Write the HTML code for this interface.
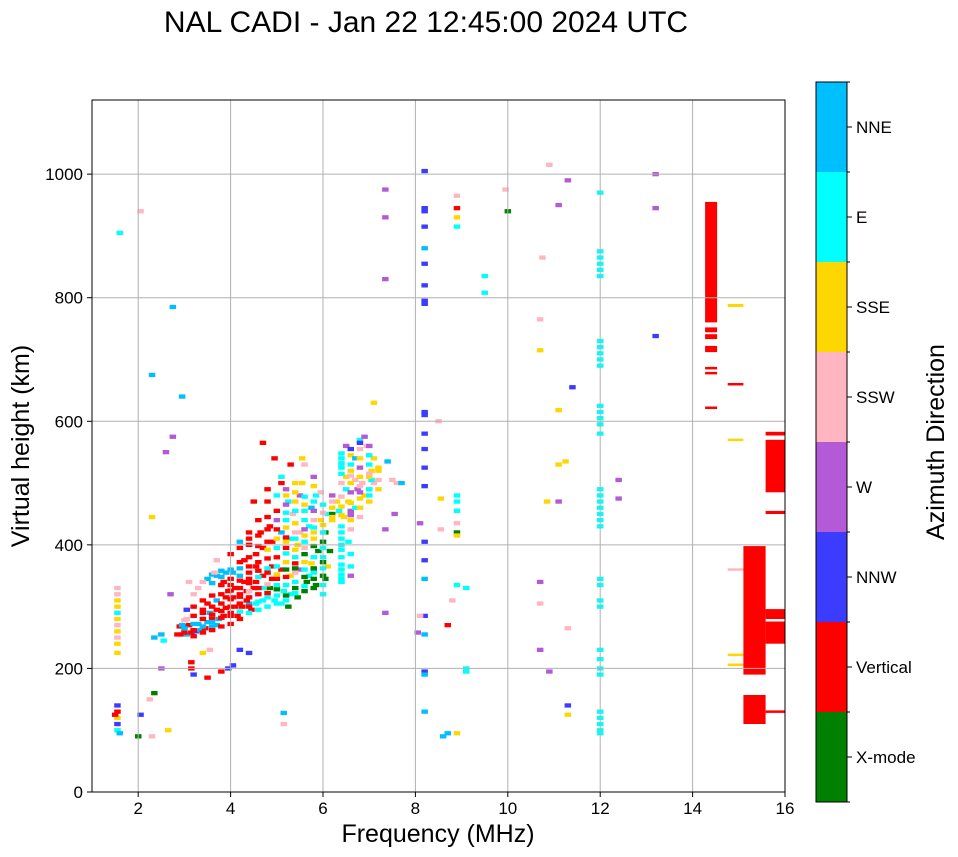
<!DOCTYPE html>
<html><head><meta charset="utf-8"><style>
html,body{margin:0;padding:0;background:#fff;}
svg{display:block;font-family:"Liberation Sans","DejaVu Sans",sans-serif;}
</style></head><body>
<svg id="chart" width="958" height="857" viewBox="0 0 958 857">
<text x="426" y="32" font-size="30" text-anchor="middle">NAL CADI - Jan 22 12:45:00 2024 UTC</text>
<g id="data"></g>
<g id="grid"></g>
<rect x="92" y="100" width="693" height="692" fill="none" stroke="#000" stroke-width="1"/>
<g id="ticks"></g>
<text x="438" y="842" font-size="25" text-anchor="middle">Frequency (MHz)</text>
<text transform="translate(29,446) rotate(-90)" font-size="25" text-anchor="middle">Virtual height (km)</text>
<g id="cbar"></g>
<text transform="translate(944,442) rotate(-90)" font-size="25" text-anchor="middle">Azimuth Direction</text>
</svg>
<script>
const directions = ["X-mode","Vertical","NNW","W","SSW","SSE","E","NNE"];
const dirColors = ["#008000","#ff0000","#3c3cff","#b45ad6","#ffb6c1","#ffd700","#00ffff","#00bfff"];
const xTicks = [2,4,6,8,10,12,14,16];
const yTicks = [0,200,400,600,800,1000];
// echoes: [frequency MHz, virtual height km, direction index]
const echoes = [
[1.55,330,4],[1.55,320,4],[1.55,310,5],[1.55,300,5],[1.55,290,6],[1.55,280,5],[1.55,270,4],[1.55,260,5],[1.55,250,4],[1.55,240,5],[1.55,225,5],
[1.55,140,2],[1.55,130,1],[1.55,120,5],[1.55,110,2],[1.55,100,6],[1.6,95,7],[1.5,125,1],[1.6,905,6],
[2.05,940,4],[2.3,675,7],[2.75,785,7],[2.95,640,7],[2.75,575,3],[2.6,550,3],[2.3,445,5],[2.35,250,7],[2.5,255,7],[2.55,245,6],[2.7,320,3],
[2.05,125,2],[2.35,160,0],[2.25,150,4],[2.5,200,3],[2.0,90,0],[2.3,90,4],[2.65,100,5],
[2.85,255,1],[2.95,255,1],[3.05,255,7],[3.15,258,1],[3.25,260,2],[3.35,262,7],[3.45,265,1],[3.6,268,7],[3.7,270,7],
[2.9,268,1],[3.0,268,2],[3.1,270,1],[3.3,272,7],[3.5,275,7],[3.6,280,1],[3.75,280,7],[3.85,285,1],[4.0,290,1],
[3.2,285,1],[3.4,290,1],[3.55,290,7],[3.7,295,1],[3.9,298,1],[4.1,300,1],[4.25,300,1],[4.4,305,7],[4.55,305,6],[4.7,310,6],
[3.5,305,1],[3.7,310,7],[3.9,315,1],[4.05,315,1],[4.2,320,1],[4.35,325,1],[4.5,330,1],[4.7,330,6],[4.85,330,0],[5.0,335,6],[5.15,325,6],[5.3,320,6],[5.45,315,0],
[3.3,330,4],[3.1,340,4],[3.5,345,7],[3.7,350,7],[3.9,355,7],[4.05,355,7],[4.2,350,7],[4.4,345,1],[4.55,340,1],[4.0,335,1],[3.85,340,1],[3.95,325,1],[4.35,310,1],[3.2,300,1],[3.05,280,4],[3.05,295,2],[2.95,270,7],
[3.8,320,1],[4.1,330,1],[4.3,340,1],[4.6,320,1],[4.8,315,6],[4.95,310,6],[5.1,305,6],[5.25,300,0],[4.15,285,1],[4.45,295,1],[3.6,300,1],[4.7,350,1],[4.9,345,1],
[4.3,375,1],[4.55,385,1],[4.7,395,1],[4.4,410,1],[4.65,420,1],[4.85,430,1],[4.8,445,1],[4.5,470,1],[4.8,490,1],[5.1,500,1],[5.3,530,1],[4.95,540,1],[4.7,565,1],
[4.2,405,7],[4.9,405,1],[5.0,380,1],[5.2,395,1],[4.9,365,1],[4.55,365,1],[5.1,360,1],[5.4,370,1],
[5.2,440,6],[5.35,450,4],[5.4,470,5],[5.5,480,3],[5.55,500,5],[5.6,455,6],[5.7,430,6],[5.8,410,5],[5.9,390,0],[6.0,380,6],[5.6,395,4],[5.45,400,5],[5.3,410,6],[5.1,420,7],
[5.25,470,6],[5.75,460,7],[5.85,480,6],[5.95,440,5],[6.05,420,0],[5.3,350,5],[5.5,360,3],[5.7,350,6],[5.85,335,0],[6.05,345,0],[6.0,320,6],[5.65,340,0],[5.4,340,6],
[5.75,370,5],[6.1,365,5],[6.15,390,0],[5.5,420,4],[5.2,465,3],[5.1,510,6],[5.55,540,5],[5.6,530,4],[5.8,510,3],[5.95,485,4],[6.1,450,6],[6.2,450,0],
[6.4,540,6],[6.4,525,6],[6.5,560,3],[6.6,545,5],[6.7,540,7],[6.8,570,6],[6.9,575,3],[6.95,560,4],[6.6,520,5],[6.7,505,4],[6.75,490,3],[7.0,530,6],[7.05,520,5],[7.1,500,4],
[6.4,500,4],[6.5,490,6],[6.55,470,5],[6.35,455,6],[6.45,445,5],[6.6,455,3],[6.7,460,6],[6.8,475,5],[6.9,480,5],[7.0,490,6],
[6.4,420,6],[6.4,400,6],[6.4,380,6],[6.4,360,6],[6.4,345,6],[6.55,405,6],[6.6,425,4],[6.3,470,5],[6.2,460,5],[6.5,510,5],[6.85,500,4],[7.05,505,6],[7.1,540,5],[7.2,520,5],
[7.1,630,5],[7.4,535,7],[7.5,505,4],[7.6,500,4],[7.7,500,7],[7.55,450,3],[6.6,350,3],
[3.0,258,1],[3.0,265,7],[3.0,278,4],
[3.2,252,1],[3.2,262,1],[3.2,272,7],[3.2,320,4],
[3.4,258,1],[3.4,268,7],[3.4,280,1],[3.4,295,1],[3.4,310,1],
[3.6,262,1],[3.6,275,7],[3.6,287,1],[3.6,318,1],[3.6,338,7],[3.6,352,7],
[3.8,268,1],[3.8,282,1],[3.8,293,1],[3.8,305,1],[3.8,335,1],[3.8,348,7],[3.8,358,7],
[4.0,272,1],[4.0,285,1],[4.0,300,1],[4.0,312,1],[4.0,326,1],[4.0,345,1],[4.0,360,7],[4.0,385,1],
[4.2,280,1],[4.2,292,6],[4.2,305,1],[4.2,316,1],[4.2,330,1],[4.2,342,1],[4.2,362,7],[4.2,372,1],[4.2,395,1],
[4.4,290,6],[4.4,300,1],[4.4,315,1],[4.4,325,4],[4.4,338,1],[4.4,355,1],[4.4,365,1],[4.4,380,1],[4.4,400,1],[4.4,420,1],
[4.6,295,6],[4.6,308,6],[4.6,330,1],[4.6,348,6],[4.6,358,1],[4.6,372,1],[4.6,398,1],[4.6,415,1],[4.6,440,1],
[4.8,300,6],[4.8,322,1],[4.8,336,4],[4.8,355,1],[4.8,362,6],[4.8,378,1],[4.8,392,5],[4.8,405,1],[4.8,425,1],[4.8,470,1],
[5.0,305,6],[5.0,318,6],[5.0,328,0],[5.0,345,1],[5.0,352,5],[5.0,365,6],[5.0,395,6],[5.0,410,5],[5.0,425,1],[5.0,440,3],[5.0,455,1],[5.0,480,6],
[5.2,310,6],[5.2,318,0],[5.2,335,6],[5.2,348,1],[5.2,360,0],[5.2,372,5],[5.2,386,6],[5.2,405,5],[5.2,412,1],[5.2,428,5],[5.2,452,6],[5.2,480,5],[5.2,490,3],
[5.4,322,6],[5.4,330,0],[5.4,355,4],[5.4,362,0],[5.4,380,6],[5.4,392,5],[5.4,410,6],[5.4,420,4],[5.4,435,5],[5.4,455,6],[5.4,485,5],[5.4,500,5],
[5.6,325,0],[5.6,333,6],[5.6,348,0],[5.6,360,6],[5.6,372,5],[5.6,385,0],[5.6,405,6],[5.6,415,5],[5.6,425,3],[5.6,440,6],[5.6,465,5],[5.6,478,6],
[5.8,330,0],[5.8,345,0],[5.8,355,6],[5.8,362,0],[5.8,380,6],[5.8,398,0],[5.8,420,5],[5.8,428,6],[5.8,440,4],[5.8,455,3],[5.8,470,6],[5.8,495,5],
[6.0,335,6],[6.0,350,0],[6.0,362,6],[6.0,372,0],[6.0,395,6],[6.0,405,0],[6.0,420,6],[6.0,432,5],[6.0,452,4],[6.0,465,6],
[6.2,440,5],[6.2,445,5],[6.2,470,4],[6.2,480,3],
[6.4,340,6],[6.4,352,6],[6.4,368,6],[6.4,392,6],[6.4,410,6],[6.4,430,6],[6.4,448,5],[6.4,462,5],[6.4,478,4],[6.4,515,6],[6.4,532,6],[6.4,548,6],
[6.6,365,6],[6.6,385,6],[6.6,440,5],[6.6,448,3],[6.6,468,5],[6.6,485,3],[6.6,500,5],[6.6,512,4],[6.6,530,6],[6.6,555,2],
[6.8,445,4],[6.8,460,5],[6.8,485,3],[6.8,495,4],[6.8,510,5],[6.8,525,3],[6.8,540,5],[6.8,555,4],[6.8,565,2],
[7.0,470,5],[7.0,480,6],[7.0,510,5],[7.0,515,4],[7.0,545,6],[7.0,560,3],
[7.2,490,5],[7.2,505,4],[7.2,525,5],
[3.15,210,1],[3.15,200,1],[3.4,225,5],[3.55,230,4],[3.8,195,1],[3.95,200,2],[4.05,205,2],[4.2,230,2],[3.5,185,1],[3.2,190,2],[3.7,375,4],[3.65,355,4],[3.4,340,4],[4.4,225,2],[5.15,128,7],[5.15,110,4],
[8.2,1005,2],[8.2,945,2],[8.2,940,2],[8.2,915,2],[8.2,880,7],[8.2,855,2],[8.2,820,2],[8.2,795,2],[8.2,790,2],[8.2,615,2],[8.2,610,2],[8.2,580,2],[8.2,555,2],[8.2,525,2],
[8.2,495,2],[8.2,405,2],[8.2,375,2],[8.2,345,7],[8.2,285,2],[8.2,255,7],[8.2,195,2],[8.2,190,7],[8.2,130,7],
[7.35,975,3],[7.35,930,3],[7.35,830,3],[7.35,425,3],[7.35,290,3],[8.1,435,3],[8.1,285,4],[8.05,258,3],
[8.5,600,4],[8.55,475,5],[8.55,425,4],[8.7,270,1],[8.6,90,7],[8.7,95,7],
[8.9,965,4],[8.9,945,1],[8.9,930,5],[8.9,915,6],[8.9,480,6],[8.9,470,6],[8.9,455,6],[8.9,435,4],[8.9,420,0],[8.9,415,5],[8.9,335,6],[8.9,95,5],[9.1,330,6],[9.1,200,6],[9.1,195,6],[8.8,310,4],
[9.5,835,6],[9.5,808,6],[9.95,975,4],[10.0,940,0],
[10.75,865,4],[10.7,765,4],[10.7,715,5],[10.9,1015,4],[11.1,950,3],[11.3,990,3],[11.1,618,5],[11.1,530,5],[11.25,535,5],[10.85,470,5],[11.1,470,3],[11.4,655,2],
[10.7,340,3],[10.7,305,4],[10.7,230,3],[10.9,195,3],[11.3,265,4],[11.3,140,2],[11.3,125,5],
[12,970,6],[12,875,6],[12,865,6],[12,855,6],[12,845,6],[12,835,6],[12,730,6],[12,720,6],[12,710,6],[12,700,6],[12,690,6],[12,625,6],[12,615,6],[12,605,6],[12,595,6],[12,580,6],
[12,490,6],[12,480,6],[12,470,6],[12,460,6],[12,450,6],[12,440,6],[12,430,6],[12,345,6],[12,335,6],[12,310,6],[12,300,6],[12,230,6],[12,215,6],[12,200,6],[12,190,6],[12,130,6],[12,120,6],[12,110,6],[12,100,6],[12,95,6],
[12.4,505,3],[12.4,475,3],[13.2,1000,3],[13.2,945,3],[13.2,738,2]
];
// wide echo blocks: [f0, f1, h0, h1, direction index]
const blocks = [
[14.27,14.53,760,955,1],[14.27,14.53,744,752,1],[14.27,14.53,733,741,1],[14.27,14.53,712,722,1],[14.27,14.53,684,688,1],[14.27,14.53,676,680,1],[14.27,14.53,620,624,1],
[14.76,15.1,785,790,5],[14.76,15.1,658,662,1],[14.76,15.1,568,572,5],[14.76,15.1,358,362,4],[14.76,15.1,220,224,5],[14.76,15.1,204,208,5],
[15.1,15.58,190,398,1],[15.1,15.58,110,157,1],
[15.58,16,485,570,1],[15.58,16,577,583,1],[15.58,16,450,455,1],[15.58,16,280,296,1],[15.58,16,240,276,1],[15.58,16,128,132,1]
];
const NS="http://www.w3.org/2000/svg";
const X0=92,X1=785,Y0=792,Y1=100,FMIN=1,FMAX=16,HMIN=0,HMAX=1120;
function xs(f){return X0+(f-FMIN)/(FMAX-FMIN)*(X1-X0);}
function ys(h){return Y0-(h-HMIN)/(HMAX-HMIN)*(Y0-Y1);}
function mk(tag,attrs,parent){const e=document.createElementNS(NS,tag);for(const k in attrs)e.setAttribute(k,attrs[k]);parent.appendChild(e);return e;}
const gd=document.getElementById('data');
const CW=0.14,CH=7;
echoes.forEach(p=>{
  const x=xs(p[0]-CW/2),y=ys(p[1]+CH/2);
  const r=mk('rect',{x:x.toFixed(1),y:y.toFixed(1),width:(xs(p[0]+CW/2)-x).toFixed(1),height:(ys(p[1]-CH/2)-y).toFixed(1),fill:dirColors[p[2]]},gd);
  
  
});
blocks.forEach(b=>{
  const x=xs(b[0]),y=ys(b[3]);
  const r=mk('rect',{x:x.toFixed(1),y:y.toFixed(1),width:(xs(b[1])-x).toFixed(1),height:(ys(b[2])-y).toFixed(1),fill:dirColors[b[4]]},gd);
  
  
});
const gg=document.getElementById('grid'),gt=document.getElementById('ticks');
xTicks.forEach(t=>{
  const x=xs(t);
  if(t<FMAX){const l=mk('line',{x1:x,x2:x,y1:Y1,y2:Y0,stroke:'#b0b0b0','stroke-width':1},gg);
  
  }
  mk('line',{x1:x,x2:x,y1:Y0,y2:Y0+5,stroke:'#000'},gt);
  const tx=mk('text',{x:x,y:Y0+22,'font-size':17,'text-anchor':'middle'},gt);tx.textContent=t;
  
  
});
yTicks.forEach(t=>{
  const y=ys(t);
  if(t>HMIN){const l=mk('line',{x1:X0,x2:X1,y1:y,y2:y,stroke:'#b0b0b0','stroke-width':1},gg);
  
  }
  mk('line',{x1:X0-5,x2:X0,y1:y,y2:y,stroke:'#000'},gt);
  const tx=mk('text',{x:X0-9,y:y+6,'font-size':17,'text-anchor':'end'},gt);tx.textContent=t;
  
  
});
const gc=document.getElementById('cbar');
const CB0=802,CB1=82,CX=816,CWID=31,seg=(CB0-CB1)/directions.length;
directions.forEach((d,i)=>{
  const y=CB0-(i+1)*seg;
  const r=mk('rect',{x:CX,y:y,width:CWID,height:seg,fill:dirColors[i]},gc);
  
  
  mk('line',{x1:CX+CWID,x2:CX+CWID+5,y1:y+seg/2,y2:y+seg/2,stroke:'#000'},gc);
  const t=mk('text',{x:CX+CWID+9,y:y+seg/2+6,'font-size':17},gc);t.textContent=d;
  
  
});
for(let i=0;i<=directions.length;i++){mk('line',{x1:CX+CWID,x2:CX+CWID+3,y1:CB0-i*seg,y2:CB0-i*seg,stroke:'#000'},gc);}
const fr=mk('rect',{x:CX,y:CB1,width:CWID,height:CB0-CB1,fill:'none',stroke:'#000'},gc);


</script>
</body></html>
